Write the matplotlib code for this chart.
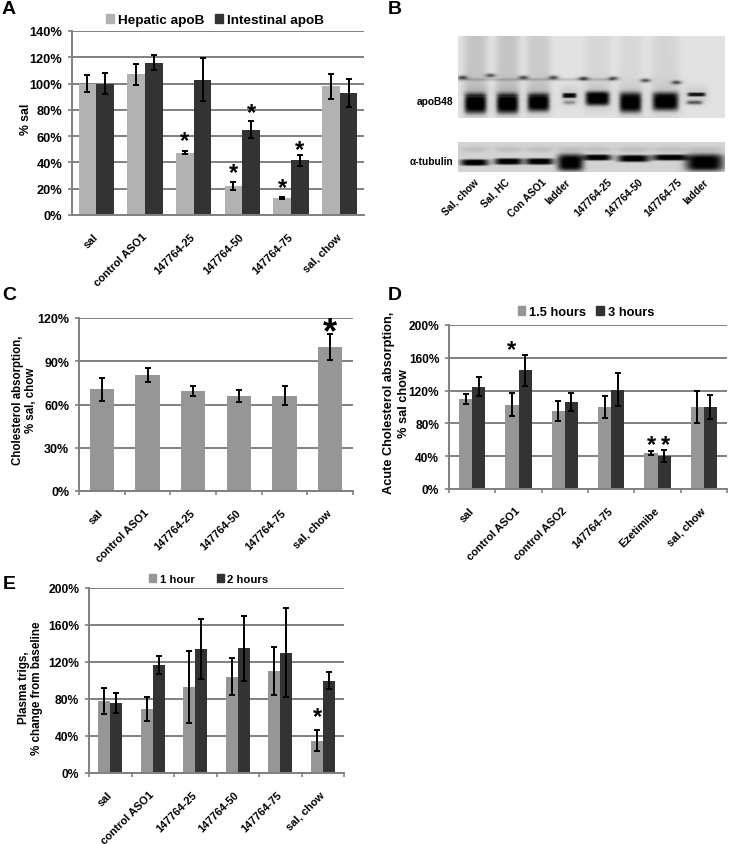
import numpy as np
import matplotlib
matplotlib.use('Agg')
import matplotlib.pyplot as plt
from matplotlib.patches import Patch

plt.rcParams['font.family'] = ['Liberation Sans', 'DejaVu Sans']
plt.rcParams['font.weight'] = 'bold'
plt.rcParams['axes.labelweight'] = 'bold'

W, H = 730, 845
LIGHT_A = '#b2b2b2'
LIGHT = '#969696'
DARK = '#333333'
GRID = '#808080'

# panel A
a_labels = ['sal', 'control ASO1', '147764-25', '147764-50', '147764-75', 'sal, chow']
a_hepatic = [100, 107, 47.5, 22, 13, 98]
a_hepatic_err = [6.5, 8, 1, 3, 0.6, 9.5]
a_intest = [100, 116, 103, 65, 41.5, 93]
a_intest_err = [8, 6, 16.5, 6.5, 4, 10.5]
a_star_x = [1.82, 2.82, 3.82, 3.18, 4.18]
a_star_y = [56.7, 32.7, 20.7, 78.3, 49.7]

# panel C
c_labels = ['sal', 'control ASO1', '147764-25', '147764-50', '147764-75', 'sal, chow']
c_vals = [70.5, 80.5, 69.5, 66, 66, 100]
c_err = [8, 5, 3.5, 4, 6.5, 9]
c_star_x = [5]
c_star_y = [109.5]

# panel D
d_labels = ['sal', 'control ASO1', 'control ASO2', '147764-75', 'Ezetimibe', 'sal, chow']
d_15h = [110, 103, 95, 100, 44, 100]
d_15h_err = [6, 14, 12, 13, 2, 20]
d_3h = [125, 145, 106, 121, 40, 100]
d_3h_err = [12, 19, 11, 20, 7, 15]
d_star_x = [0.85, 3.875, 4.18]
d_star_y = [170.7, 54, 54]

# panel E
e_labels = ['sal', 'control ASO1', '147764-25', '147764-50', '147764-75', 'sal, chow']
e_1h = [78, 69, 93, 104, 110, 35]
e_1h_err = [14, 13, 39, 20, 26, 11]
e_2h = [76, 117, 134, 135, 130, 100]
e_2h_err = [11, 10, 32, 35, 48, 9]
e_star_x = [4.866]
e_star_y = [61.6]

# panel B, positions are pixels inside each blot
b_labels = ['Sal, chow', 'Sal, HC', 'Con ASO1', 'ladder', '147764-25', '147764-50', '147764-75', 'ladder']
b_label_x = [478, 509, 546, 570, 612, 643, 682, 708]
top_lane_x = [17, 49, 80, 111, 139, 172, 207, 238]
top_lane_w = [11, 11, 11, 7, 12, 11, 13, 9]
top_lane_y = [67, 67, 66, 59, 62, 66, 65, 58]
top_lane_h = [10, 10, 9, 2.5, 7, 10, 9, 2]
top_lane_dark = [1, 1, 1, 0.9, 1, 1, 1, 0.85]
top_smear = [30, 30, 24, 0, 12, 10, 14, 0]
top_spot_x = [4, 32, 65, 95, 125, 155, 187, 218]
top_spot_y = [41, 39, 41, 41, 42, 42, 44, 46]
extra_band_x = [111, 236]
extra_band_w = [6, 8]
extra_band_y = [66, 66]
extra_band_dark = [70, 130]
tub_lane_x = [16, 50, 81, 112, 139, 175, 211, 246]
tub_lane_w = [14, 14, 14, 13, 14, 16, 17, 19]
tub_lane_y = [20, 19, 19, 20, 15, 16, 15, 20]
tub_lane_h = [3.2, 3.2, 3.2, 8.5, 3, 3.5, 3, 8.5]


def px_axes(fig, left, top, right, bottom):
    return fig.add_axes([left / W, 1 - bottom / H, (right - left) / W, (bottom - top) / H])


def bar_panel(ax, labels, series, errs, colors, ymax, step, width, size=9):
    x = np.arange(len(labels))
    n = len(series)
    for i in range(n):
        off = (i - (n - 1) / 2) * width
        ax.bar(x + off, series[i], width, color=colors[i], zorder=2,
               yerr=errs[i], ecolor='black',
               error_kw=dict(elinewidth=1.4, capsize=2.5, capthick=1.4, zorder=3))
    ax.set_xlim(-0.5, len(labels) - 0.5)
    ax.set_ylim(0, ymax)
    ax.set_yticks(np.arange(0, ymax + 1, step))
    ax.set_yticklabels(['%d%%' % v for v in np.arange(0, ymax + 1, step)], fontsize=size)
    ax.yaxis.grid(True, color=GRID, lw=1.4, zorder=1)
    ax.set_axisbelow(True)
    for s in ['top', 'right']:
        ax.spines[s].set_visible(False)
    for s in ['left', 'bottom']:
        ax.spines[s].set_color(GRID)
        ax.spines[s].set_linewidth(1.4)
    ax.set_xticks(np.arange(len(labels) + 1) - 0.5, minor=True)
    ax.tick_params(axis='x', which='minor', length=3, color=GRID, width=1.2)
    ax.tick_params(axis='x', which='major', length=0, pad=14)
    ax.tick_params(axis='y', length=3, color=GRID, width=1.2, pad=4)
    ax.set_xticks(x)
    ax.set_xticklabels(labels, rotation=45, ha='right', va='center', rotation_mode='anchor',
                       fontsize=7.9)


def stars(ax, xs, ys, size=17):
    for sx, sy in zip(xs, ys):
        ax.text(sx, sy, '*', fontsize=size, ha='center', va='center', color='black', zorder=5)


def legend(fig, ax, names, colors, cx, cy, size, gap):
    handles = [Patch(color=c, label=n) for n, c in zip(names, colors)]
    ax.legend(handles=handles, loc='center', bbox_to_anchor=(cx / W, 1 - cy / H),
              bbox_transform=fig.transFigure, ncol=2, frameon=False, fontsize=size,
              handlelength=0.6, handleheight=0.6, handletextpad=0.3, columnspacing=gap,
              borderpad=0)


fig = plt.figure(figsize=(W / 100, H / 100), dpi=100)

# A
ax = px_axes(fig, 72, 32, 364, 216)
bar_panel(ax, a_labels, [a_hepatic, a_intest], [a_hepatic_err, a_intest_err],
          [LIGHT_A, DARK], 140, 20, 0.365, size=9.2)
ax.tick_params(axis='x', which='minor', length=0)
ax.set_ylabel('% sal', fontsize=8.8)
ax.yaxis.set_label_coords(-0.137, 0.527)
stars(ax, a_star_x, a_star_y)
legend(fig, ax, ['Hepatic apoB', 'Intestinal apoB'], [LIGHT_A, DARK], 215, 21, 9.7, 0.8)

# C
ax = px_axes(fig, 79, 319, 353, 492)
bar_panel(ax, c_labels, [c_vals], [c_err], [LIGHT], 120, 30, 0.53, size=9)
ax.set_ylabel('Cholesterol absorption,\n% sal, chow', fontsize=8.3, linespacing=1.15)
ax.yaxis.set_label_coords(-0.153, 0.53)
stars(ax, c_star_x, c_star_y, size=26)

# D
ax = px_axes(fig, 449, 326, 727, 490)
bar_panel(ax, d_labels, [d_15h, d_3h], [d_15h_err, d_3h_err], [LIGHT, DARK], 200, 40, 0.285, size=8.6)
ax.set_ylabel('Acute Cholesterol absorption,\n% sal chow', fontsize=9.2, linespacing=1.3)
ax.yaxis.set_label_coords(-0.14, 0.53)
stars(ax, d_star_x, d_star_y)
legend(fig, ax, ['1.5 hours', '3 hours'], [LIGHT, DARK], 586, 313, 9.3, 0.8)

# E
ax = px_axes(fig, 89, 589, 344, 774)
bar_panel(ax, e_labels, [e_1h, e_2h], [e_1h_err, e_2h_err], [LIGHT, DARK], 200, 40, 0.285, size=8.7)
ax.set_ylabel('Plasma trigs,\n% change from baseline', fontsize=8.4, linespacing=1.15)
ax.yaxis.set_label_coords(-0.18, 0.465)
stars(ax, e_star_x, e_star_y)
legend(fig, ax, ['1 hour', '2 hours'], [LIGHT, DARK], 209, 580, 8.2, 2.0)

# B, upper blot
yy, xx = np.mgrid[0:82, 0:267]
top = np.full(yy.shape, 226.0)
for lx, ly, lw, lh, ld, sm in zip(top_lane_x, top_lane_y, top_lane_w, top_lane_h, top_lane_dark, top_smear):
    top -= sm * np.exp(-((xx - lx) / (lw + 1)) ** 4) * (yy < 60)
    top -= 25 * np.exp(-((xx - lx) / (lw + 3)) ** 4 - ((yy - ly) / (lh + 7)) ** 2)
    top -= 215 * ld * np.exp(-((xx - lx) / lw) ** 6 - ((yy - ly) / lh) ** 4)
for bx, bw, by, bd in zip(extra_band_x, extra_band_w, extra_band_y, extra_band_dark):
    top -= bd * np.exp(-((xx - bx) / bw) ** 4 - ((yy - by) / 2.0) ** 2)
for sx, sy in zip(top_spot_x, top_spot_y):
    top -= 140 * np.exp(-((xx - sx) / 5.0) ** 2 - ((yy - sy) / 2.0) ** 2)
top -= 35 * np.exp(-((yy - 43) / 1.5) ** 2) * (xx < 155)
ax_top = px_axes(fig, 458, 37, 725, 119)
ax_top.imshow(np.clip(top, 0, 255), cmap='gray', vmin=0, vmax=255, aspect='auto')
ax_top.axis('off')

# B, tubulin blot
yy, xx = np.mgrid[0:30, 0:267]
tub = np.full(yy.shape, 212.0)
for lx, ly, lw, lh in zip(tub_lane_x, tub_lane_y, tub_lane_w, tub_lane_h):
    tub -= 225 * np.exp(-((xx - lx) / lw) ** 4 - ((yy - ly) / lh) ** 4)
    tub -= 22 * np.exp(-((xx - lx) / lw) ** 4 - ((yy - 7) / 3.0) ** 2)
ax_tub = px_axes(fig, 458, 143, 725, 173)
ax_tub.imshow(np.clip(tub, 0, 255), cmap='gray', vmin=0, vmax=255, aspect='auto')
ax_tub.axis('off')

fig.text(453 / W, 1 - 102 / H, 'apoB48', fontsize=7.3, ha='right', va='center')
fig.text(453 / W, 1 - 162 / H, '\u03b1-tubulin', fontsize=7.3, ha='right', va='center')
for lab, lx in zip(b_labels, b_label_x):
    fig.text((lx - 1) / W, 1 - 181 / H, lab, fontsize=7.3, rotation=45, ha='right', va='center',
             rotation_mode='anchor')

# panel letters
for letter, lx, ly in [('A', 2, 10), ('B', 388, 9), ('C', 2, 295), ('D', 388, 295), ('E', 3, 585)]:
    fig.text(lx / W, 1 - ly / H, letter, fontsize=14, ha='left', va='center')

fig.savefig('out.png', dpi=100)
